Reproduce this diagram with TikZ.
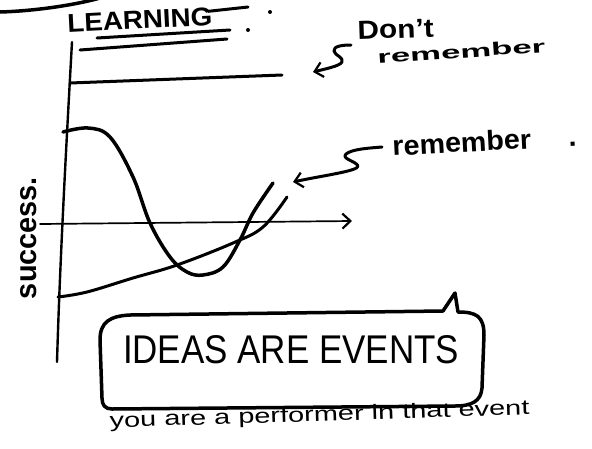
\documentclass[tikz,border=0pt]{standalone}
\usepackage{fontspec}
\setmainfont{Liberation Sans}
\usetikzlibrary{arrows.meta}
\begin{document}
\begin{tikzpicture}[x=1pt,y=-1pt,
  pen/.style={line width=3pt, line cap=round, line join=round},
  heavypen/.style={line width=3.5pt, line cap=round, line join=round},
  thinpen/.style={line width=1.7pt, line cap=round, line join=round},
  barb/.style={-{Straight Barb[length=8pt,width=15pt,line width=2.2pt]}},
  lbl/.style={inner sep=0pt, outer sep=0pt}]
\useasboundingbox (0,0) rectangle (592,448);

% stray stroke in the top-left corner
\draw[heavypen] (0,12) .. controls (35,11) and (75,5) .. (100,-2);

% title with its underlines and dots
\node[lbl, anchor=south west, rotate=3] (learn) at (68,33) {\resizebox{145pt}{18pt}{\bfseries LEARNING}};
\draw[pen] (learn.east) ++(-4,-5) -- (248,7);
\draw[pen] (97,38) -- (230,30);
\draw[pen] (80,50) -- (227,39);
\fill (270,12) circle (2pt);
\fill (248,30) circle (2pt);

% axes
\coordinate (ytop) at (72,42);
\coordinate (ybot) at (57,362);
\coordinate (xstart) at (40,224);
\coordinate (xend) at (352,221);
\draw[pen, line width=2.4pt] (ytop) .. controls (66,150) and (60,260) .. (ybot);
\draw[thinpen, barb] (xstart) -- (xend);

% y-axis label
\node[lbl, rotate=90] (succ) at (29,238) {\resizebox{122pt}{16pt}{\bfseries success.}};

% flat line: "don't remember"
\draw[pen] (70,83) -- (282,75);

% wave curve: "remember"
\draw[heavypen] plot[smooth, tension=0.6] coordinates {
  (63,132) (88,128) (110,137) (133,177) (150,223) (170,257) (187,272)
  (203,275) (223,267) (240,240) (253,213) (273,183)};

% rising curve
\draw[pen] plot[smooth, tension=0.6] coordinates {
  (58,297) (87,292) (133,278) (177,265) (233,243) (263,227) (287,197)};

% label "Don't remember" with its squiggle arrow
\node[lbl, anchor=south west, rotate=2] (dont) at (358,40) {\resizebox{76pt}{18pt}{\bfseries Don't}};
\node[lbl, anchor=south west, rotate=4] (dontrem) at (378,64) {\resizebox{168pt}{13pt}{\bfseries remember}};
\coordinate (s1) at (351,45);
\coordinate (t1) at (313,72);
\draw[pen, barb] (s1) .. controls (343,45) and (333,46) .. (334,51)
  .. controls (335,56) and (344,57) .. (342,62)
  .. controls (340,66) and (325,69) .. (t1);

% label "remember." with its squiggle arrow
\node[lbl, anchor=south west, rotate=3] (rem) at (393,156) {\resizebox{184pt}{20pt}{\bfseries remember\hspace{1.3em}.}};
\coordinate (s2) at (382,147);
\coordinate (t2) at (293,182);
\draw[pen, barb] (s2) .. controls (370,148) and (352,149) .. (346,154)
  .. controls (341,159) and (356,161) .. (358,166)
  .. controls (359,171) and (320,176) .. (t2);

% speech bubble
\draw[heavypen] (102,398) -- (100,340) .. controls (100,322) and (110,316) .. (130,315)
  -- (443,311) -- (455,293) -- (458,312)
  .. controls (476,312) and (484,316) .. (484,335)
  -- (482,388) .. controls (481,401) and (472,406) .. (455,406)
  -- (112,409) .. controls (105,409) and (102,405) .. cycle;
\node[lbl, anchor=south west] (ideas) at (123,364) {\resizebox{336pt}{28pt}{IDEAS ARE EVENTS}};

% caption below the bubble
\node[lbl, anchor=south west, rotate=1.8] (perf) at (110,432) {\resizebox{420pt}{15pt}{you are a performer in that event}};
\end{tikzpicture}
\end{document}
